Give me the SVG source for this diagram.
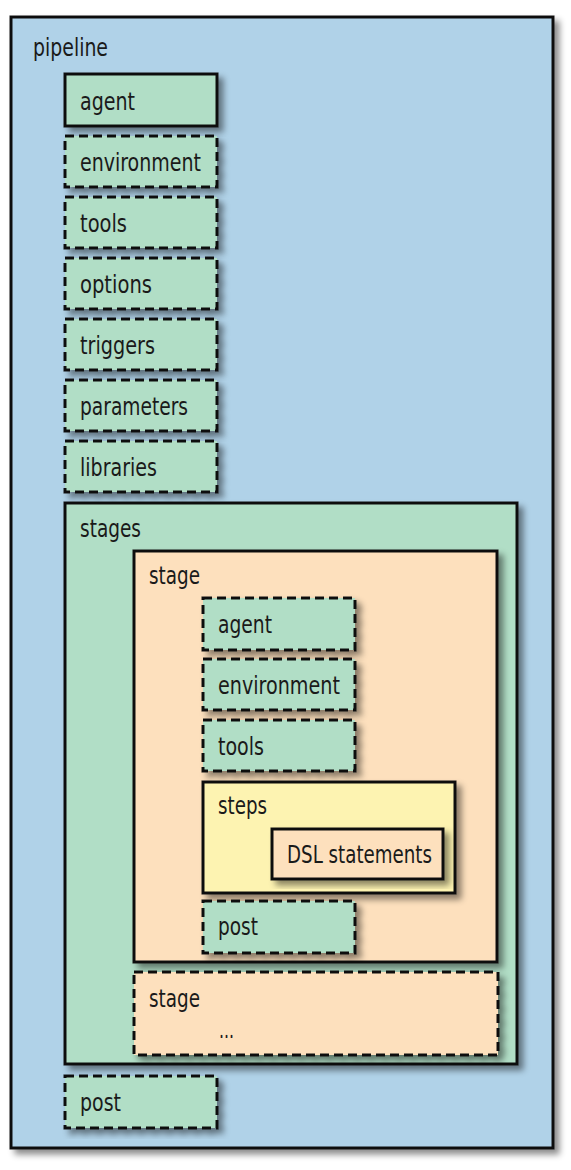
<svg xmlns="http://www.w3.org/2000/svg" width="571" height="1170" viewBox="0 0 571 1170">
<defs>
<filter id="sh" x="-10%" y="-10%" width="130%" height="130%">
<feDropShadow dx="5" dy="5" stdDeviation="3" flood-color="#000" flood-opacity="0.45"/>
</filter>
<style>
.solid{stroke:#111;stroke-width:3;filter:url(#sh)}
.dash{stroke:#111;stroke-width:3;stroke-dasharray:9 5;filter:url(#sh)}
.blue{fill:#b0d2e8}
.green{fill:#b1dec6}
.peach{fill:#fde0bd}
.yellow{fill:#fdf3b1}
text{font-family:"Liberation Sans Narrow","DejaVu Sans Condensed",sans-serif;font-size:25px;fill:#1a1a1a}
</style>
</defs>
<rect width="571" height="1170" fill="#fff"/>
<g id="pipeline">
<rect class="solid blue" x="11" y="17" width="542" height="1131"/>
<text x="33" y="56" textLength="75" lengthAdjust="spacingAndGlyphs">pipeline</text>
</g>
<g id="agent">
<rect class="solid green" x="65" y="74" width="152" height="52"/>
<text x="80" y="110" textLength="55" lengthAdjust="spacingAndGlyphs">agent</text>
</g>
<g id="environment">
<rect class="dash green" x="65" y="136" width="152" height="51"/>
<text x="80" y="171" textLength="121" lengthAdjust="spacingAndGlyphs">environment</text>
</g>
<g id="tools">
<rect class="dash green" x="65" y="197" width="152" height="51"/>
<text x="80" y="232" textLength="47" lengthAdjust="spacingAndGlyphs">tools</text>
</g>
<g id="options">
<rect class="dash green" x="65" y="258" width="152" height="51"/>
<text x="80" y="293" textLength="72" lengthAdjust="spacingAndGlyphs">options</text>
</g>
<g id="triggers">
<rect class="dash green" x="65" y="319" width="152" height="51"/>
<text x="80" y="354" textLength="75" lengthAdjust="spacingAndGlyphs">triggers</text>
</g>
<g id="parameters">
<rect class="dash green" x="65" y="380" width="152" height="51"/>
<text x="80" y="415" textLength="108" lengthAdjust="spacingAndGlyphs">parameters</text>
</g>
<g id="libraries">
<rect class="dash green" x="65" y="441" width="152" height="51"/>
<text x="80" y="476" textLength="77" lengthAdjust="spacingAndGlyphs">libraries</text>
</g>
<g id="stages">
<rect class="solid green" x="65" y="503" width="452" height="561"/>
<text x="80" y="537" textLength="61" lengthAdjust="spacingAndGlyphs">stages</text>
</g>
<g id="stage1">
<rect class="solid peach" x="134" y="551" width="363" height="411"/>
<text x="149" y="584" textLength="51" lengthAdjust="spacingAndGlyphs">stage</text>
</g>
<g id="stage-agent">
<rect class="dash green" x="203" y="598" width="152" height="52"/>
<text x="218" y="633" textLength="54" lengthAdjust="spacingAndGlyphs">agent</text>
</g>
<g id="stage-environment">
<rect class="dash green" x="203" y="659" width="152" height="51"/>
<text x="218" y="694" textLength="122" lengthAdjust="spacingAndGlyphs">environment</text>
</g>
<g id="stage-tools">
<rect class="dash green" x="203" y="720" width="152" height="51"/>
<text x="218" y="755" textLength="46" lengthAdjust="spacingAndGlyphs">tools</text>
</g>
<g id="steps">
<rect class="solid yellow" x="203" y="782" width="252" height="111"/>
<text x="218" y="814" textLength="49" lengthAdjust="spacingAndGlyphs">steps</text>
</g>
<g id="dsl">
<rect class="solid peach" x="272" y="829" width="171" height="50"/>
<text x="287" y="863" textLength="145" lengthAdjust="spacingAndGlyphs">DSL statements</text>
</g>
<g id="stage-post">
<rect class="dash green" x="203" y="901" width="152" height="52"/>
<text x="218" y="935" textLength="40" lengthAdjust="spacingAndGlyphs">post</text>
</g>
<g id="stage2">
<rect class="dash peach" x="134" y="972" width="364" height="83"/>
<text x="149" y="1007" textLength="51" lengthAdjust="spacingAndGlyphs">stage</text>
<text x="219" y="1038" textLength="15" lengthAdjust="spacingAndGlyphs">...</text>
</g>
<g id="post">
<rect class="dash green" x="65" y="1076" width="152" height="52"/>
<text x="80" y="1111" textLength="41" lengthAdjust="spacingAndGlyphs">post</text>
</g>
<g id="connectors"></g>
</svg>
